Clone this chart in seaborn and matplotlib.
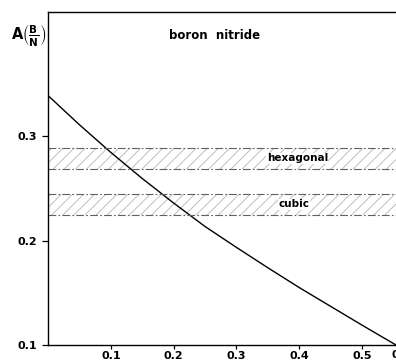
import matplotlib
matplotlib.use("Agg")
import matplotlib.pyplot as plt
import seaborn as sns
import pandas as pd

# data
x_vals = [0.0, 0.05, 0.10, 0.15, 0.20, 0.25, 0.30, 0.35, 0.40, 0.45, 0.50, 0.554]
a_vals = [0.339, 0.311, 0.2845, 0.2595, 0.236, 0.2135, 0.1935, 0.174, 0.155, 0.137, 0.119, 0.100]
hex_band = (0.269, 0.289)
cub_band = (0.225, 0.2445)
x_ticks = [0.1, 0.2, 0.3, 0.4, 0.5]
y_ticks = [0.1, 0.2, 0.3]

sns.set_style("ticks")
plt.rcParams['font.family'] = ['DejaVu Sans']
plt.rcParams['text.color'] = 'black'
plt.rcParams['hatch.linewidth'] = 0.6
plt.rcParams['mathtext.fontset'] = 'dejavusans'

fig = plt.figure(figsize=(3.96, 3.64), dpi=100)
ax = fig.add_axes([48/396, 1-345/364, 1-48/396, (345-12)/364])

df = pd.DataFrame({"x": x_vals, "A": a_vals})
sns.lineplot(data=df, x="x", y="A", ax=ax, color="black", linewidth=1.0)

for lo, hi in (hex_band, cub_band):
    ax.axhspan(lo, hi, facecolor="none", edgecolor="#b5b5b5", hatch="///", linewidth=0)
    for yv in (lo, hi):
        ax.axhline(yv, color="#606060", linewidth=0.8, linestyle=(0, (7, 2, 1.5, 2)))

ax.text(0.397, (hex_band[0]+hex_band[1])/2, "hexagonal", ha="center", va="center", color="black",
        fontsize=7.5, fontweight="bold", bbox=dict(facecolor="white", edgecolor="none", pad=0.3))
ax.text(0.391, (cub_band[0]+cub_band[1])/2, "cubic", ha="center", va="center", color="black",
        fontsize=7.5, fontweight="bold", bbox=dict(facecolor="white", edgecolor="none", pad=0.3))
ax.text(0.265, 0.3967, "boron  nitride", ha="center", va="center", fontsize=8.5,
        fontweight="bold", color="black")

ax.set_xlim(0, 0.554)
ax.set_ylim(0.1, 0.419)
ax.set_xticks(x_ticks)
ax.set_yticks(y_ticks)
ax.set_xticklabels([str(t) for t in x_ticks], fontsize=8, fontweight="bold")
ax.set_yticklabels([str(t) for t in y_ticks], fontsize=8, fontweight="bold")
ax.tick_params(axis="y", direction="out", length=4, width=0.9, colors="black", pad=4)
ax.tick_params(axis="x", direction="out", length=3, width=0.9, colors="black", pad=1.5)
ax.set_xlabel("")
ax.set_ylabel("")
ax.spines["right"].set_visible(False)
for s in ("left", "top", "bottom"):
    ax.spines[s].set_linewidth(1.0)
    ax.spines[s].set_color("black")

fig.text(29/396, 1-36/364, r'$\mathbf{A}\left(\frac{\mathbf{B}}{\mathbf{N}}\right)$',
         ha="center", va="center", fontsize=10.5, color="black")
fig.text(392/396, 1-355/364, "0.6", ha="left", va="center", fontsize=8, fontweight="bold",
         color="black")

fig.savefig("out.png", dpi=100)
